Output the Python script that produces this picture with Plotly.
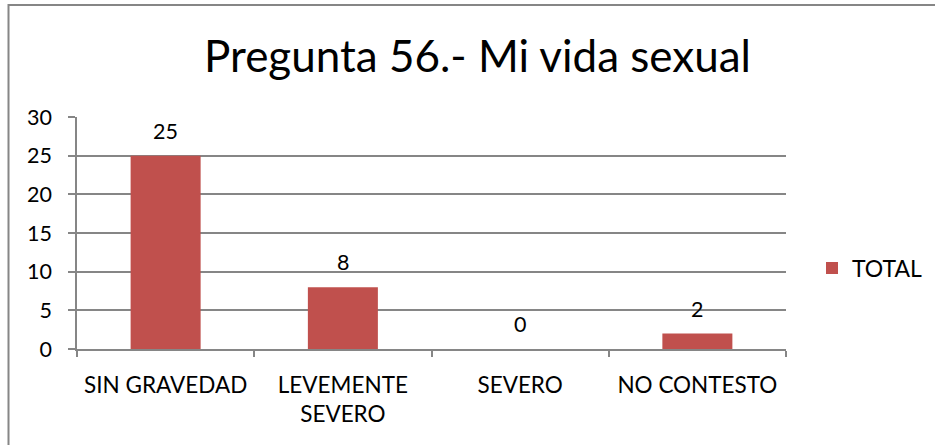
import plotly.graph_objects as go

categories = ["SIN GRAVEDAD", "LEVEMENTE<br>SEVERO", "SEVERO", "NO CONTESTO"]
values = [25, 8, 0, 2]
series_name = "TOTAL"
y_ticks = [0, 5, 10, 15, 20, 25, 30]

FONT = "Lato"
BAR = "#C0504D"
GRID = "#868686"

fig = go.Figure()
fig.add_trace(go.Bar(
    x=categories, y=values, name=series_name,
    marker=dict(color=BAR, line=dict(width=0)),
    showlegend=True,
))

for c, v in zip(categories, values):
    fig.add_annotation(x=c, y=v, text=str(v), showarrow=False,
                       yanchor="bottom", yshift=10,
                       font=dict(family=FONT, size=21.5, color="black"))

L, R, T, B = 77, 786, 117, 349
W, H = 935, 445
pw, ph = R - L, B - T

def px(x):
    return (x - L) / pw

def py(y):
    return (B - y) / ph

fig.add_shape(type="rect", xref="paper", yref="paper",
              x0=px(8.5), x1=px(960), y0=py(470), y1=py(5),
              line=dict(color=GRID, width=2), fillcolor="rgba(0,0,0,0)", layer="below")

fig.update_layout(
    width=W, height=H,
    margin=dict(l=L, r=W - R, t=T, b=H - B, autoexpand=False),
    paper_bgcolor="white", plot_bgcolor="white",
    font=dict(family=FONT, color="black"),
    title=dict(text="Pregunta 56.- Mi vida sexual", x=477.5 / W, xanchor="center",
               y=1 - 57 / H, yanchor="middle",
               font=dict(family=FONT, size=44, color="black")),
    bargap=0.605,
    showlegend=True,
    legend=dict(x=px(812), y=py(268), xanchor="left", yanchor="middle",
                font=dict(family=FONT, size=23, color="black"),
                bgcolor="rgba(0,0,0,0)", itemwidth=30),
    xaxis=dict(type="category", showgrid=False, showline=True, linecolor=GRID, linewidth=1.5,
               ticks="outside", tickson="boundaries", ticklen=6, tickcolor=GRID, tickwidth=1.5,
               tickfont=dict(family=FONT, size=22.5, color="black"), ticklabelstandoff=15),
    yaxis=dict(range=[0, 30], tickvals=y_ticks, showgrid=True, gridcolor=GRID, gridwidth=1.5,
               showline=True, linecolor=GRID, linewidth=1.5, zeroline=False,
               ticks="outside", ticklen=7, tickcolor=GRID, tickwidth=1.5,
               tickfont=dict(family=FONT, size=21.5, color="black"), ticklabelstandoff=12),
)

fig.write_html("out.html", config={"displayModeBar": False},
               post_script="document.body.style.margin='0';")
